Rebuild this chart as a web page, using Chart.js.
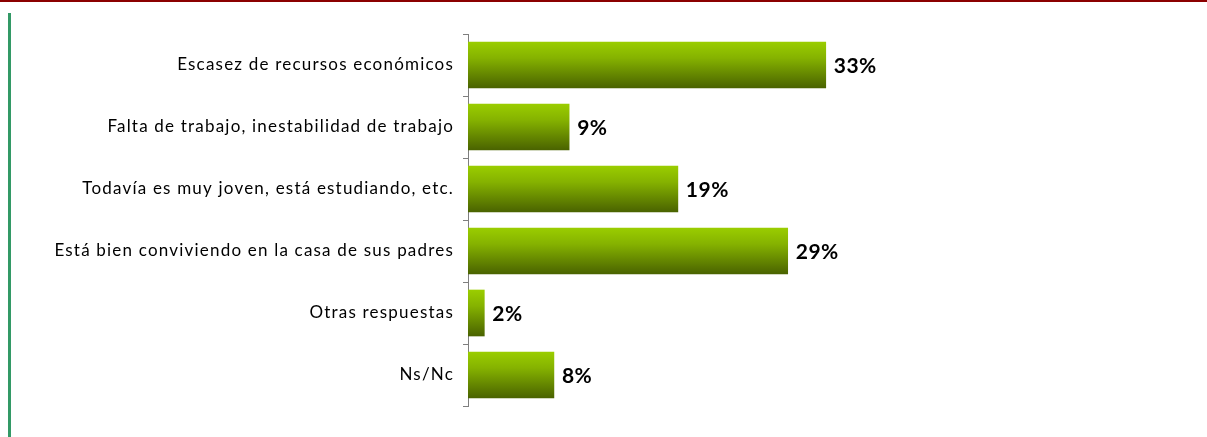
<!DOCTYPE html>
<html>
<head>
<meta charset="utf-8">
<script src="https://cdn.jsdelivr.net/npm/chart.js@4/dist/chart.umd.min.js"></script>
<style>
  html, body { margin: 0; padding: 0; background: #fff; }
  #marco { position: relative; width: 1207px; height: 437px; overflow: hidden; }
  #lineaRoja { position: absolute; left: 0; top: 0; width: 1207px; height: 2px; background: #8b0000; }
  #lineaVerde { position: absolute; left: 8px; top: 13px; width: 3px; height: 424px; background: #339966; }
  #grafico { position: absolute; left: 0; top: 0; }
</style>
</head>
<body>
<div id="marco">
  <div id="lineaRoja"></div>
  <div id="lineaVerde"></div>
  <canvas id="grafico" width="1207" height="437"></canvas>
</div>
<script>
// Motivos por los que no se independiza (porcentajes)
var categorias = [
  'Escasez de recursos económicos',
  'Falta de trabajo, inestabilidad de trabajo',
  'Todavía es muy joven, está estudiando, etc.',
  'Está bien conviviendo en la casa de sus padres',
  'Otras respuestas',
  'Ns/Nc'
];
var valores = [32.9, 9.3, 19.3, 29.4, 1.5, 7.9];
var etiquetas = ['33%', '9%', '19%', '29%', '2%', '8%'];

var grosorBarra = 46;

/* Degradado verde de cada barra, de arriba a abajo */
function degradado(context) {
  var chart = context.chart;
  if (!chart.chartArea || !chart.scales.y) return '#80aa00';
  var yc = chart.scales.y.getPixelForValue(context.dataIndex);
  var g = chart.ctx.createLinearGradient(0, yc - grosorBarra / 2, 0, yc + grosorBarra / 2);
  g.addColorStop(0, '#9acd00');
  g.addColorStop(0.35, '#85b200');
  g.addColorStop(1, '#4a6300');
  return g;
}

// espaciado de letras como en el original
var pluginEspaciado = {
  id: 'espaciado',
  beforeDraw: function(chart) {
    chart.ctx.letterSpacing = '1.2px';
  }
};

var pluginEtiquetas = {
  id: 'etiquetas',
  afterDatasetsDraw: function(chart) {
    var ctx = chart.ctx;
    var meta = chart.getDatasetMeta(0);
    ctx.save();
    ctx.letterSpacing = '0.5px';
    ctx.font = 'bold 21px Lato';
    ctx.fillStyle = '#000';
    ctx.textAlign = 'left';
    ctx.textBaseline = 'middle';
    meta.data.forEach(function(bar, i) {
      ctx.fillText(etiquetas[i], bar.x + 8, bar.y + 1);
    });
    ctx.restore();
  }
};

var ctx = document.getElementById('grafico');
var grafico = new Chart(ctx, {
  type: 'bar',
  data: {
    labels: categorias,
    datasets: [{
      data: valores,
      backgroundColor: degradado,
      borderWidth: 0,
      barThickness: grosorBarra
    }]
  },
  options: {
    indexAxis: 'y',
    responsive: false,
    animation: false,
    layout: { padding: { top: 34, bottom: 31, left: 0, right: 5 } },
    plugins: {
      legend: { display: false },
      tooltip: { enabled: false }
    },
    scales: {
      x: {
        display: false,
        min: 0,
        max: 67.5
      },
      y: {
        afterFit: function(scale) { scale.width = 468; },
        border: { display: true, color: '#7f7f7f', width: 1 },
        grid: {
          offset: true,
          drawOnChartArea: false,
          color: '#7f7f7f',
          tickLength: 5
        },
        ticks: {
          color: '#000',
          padding: 9,
          font: { family: 'Lato', size: 17 }
        }
      }
    }
  },
  plugins: [pluginEspaciado, pluginEtiquetas]
});
</script>
</body>
</html>
